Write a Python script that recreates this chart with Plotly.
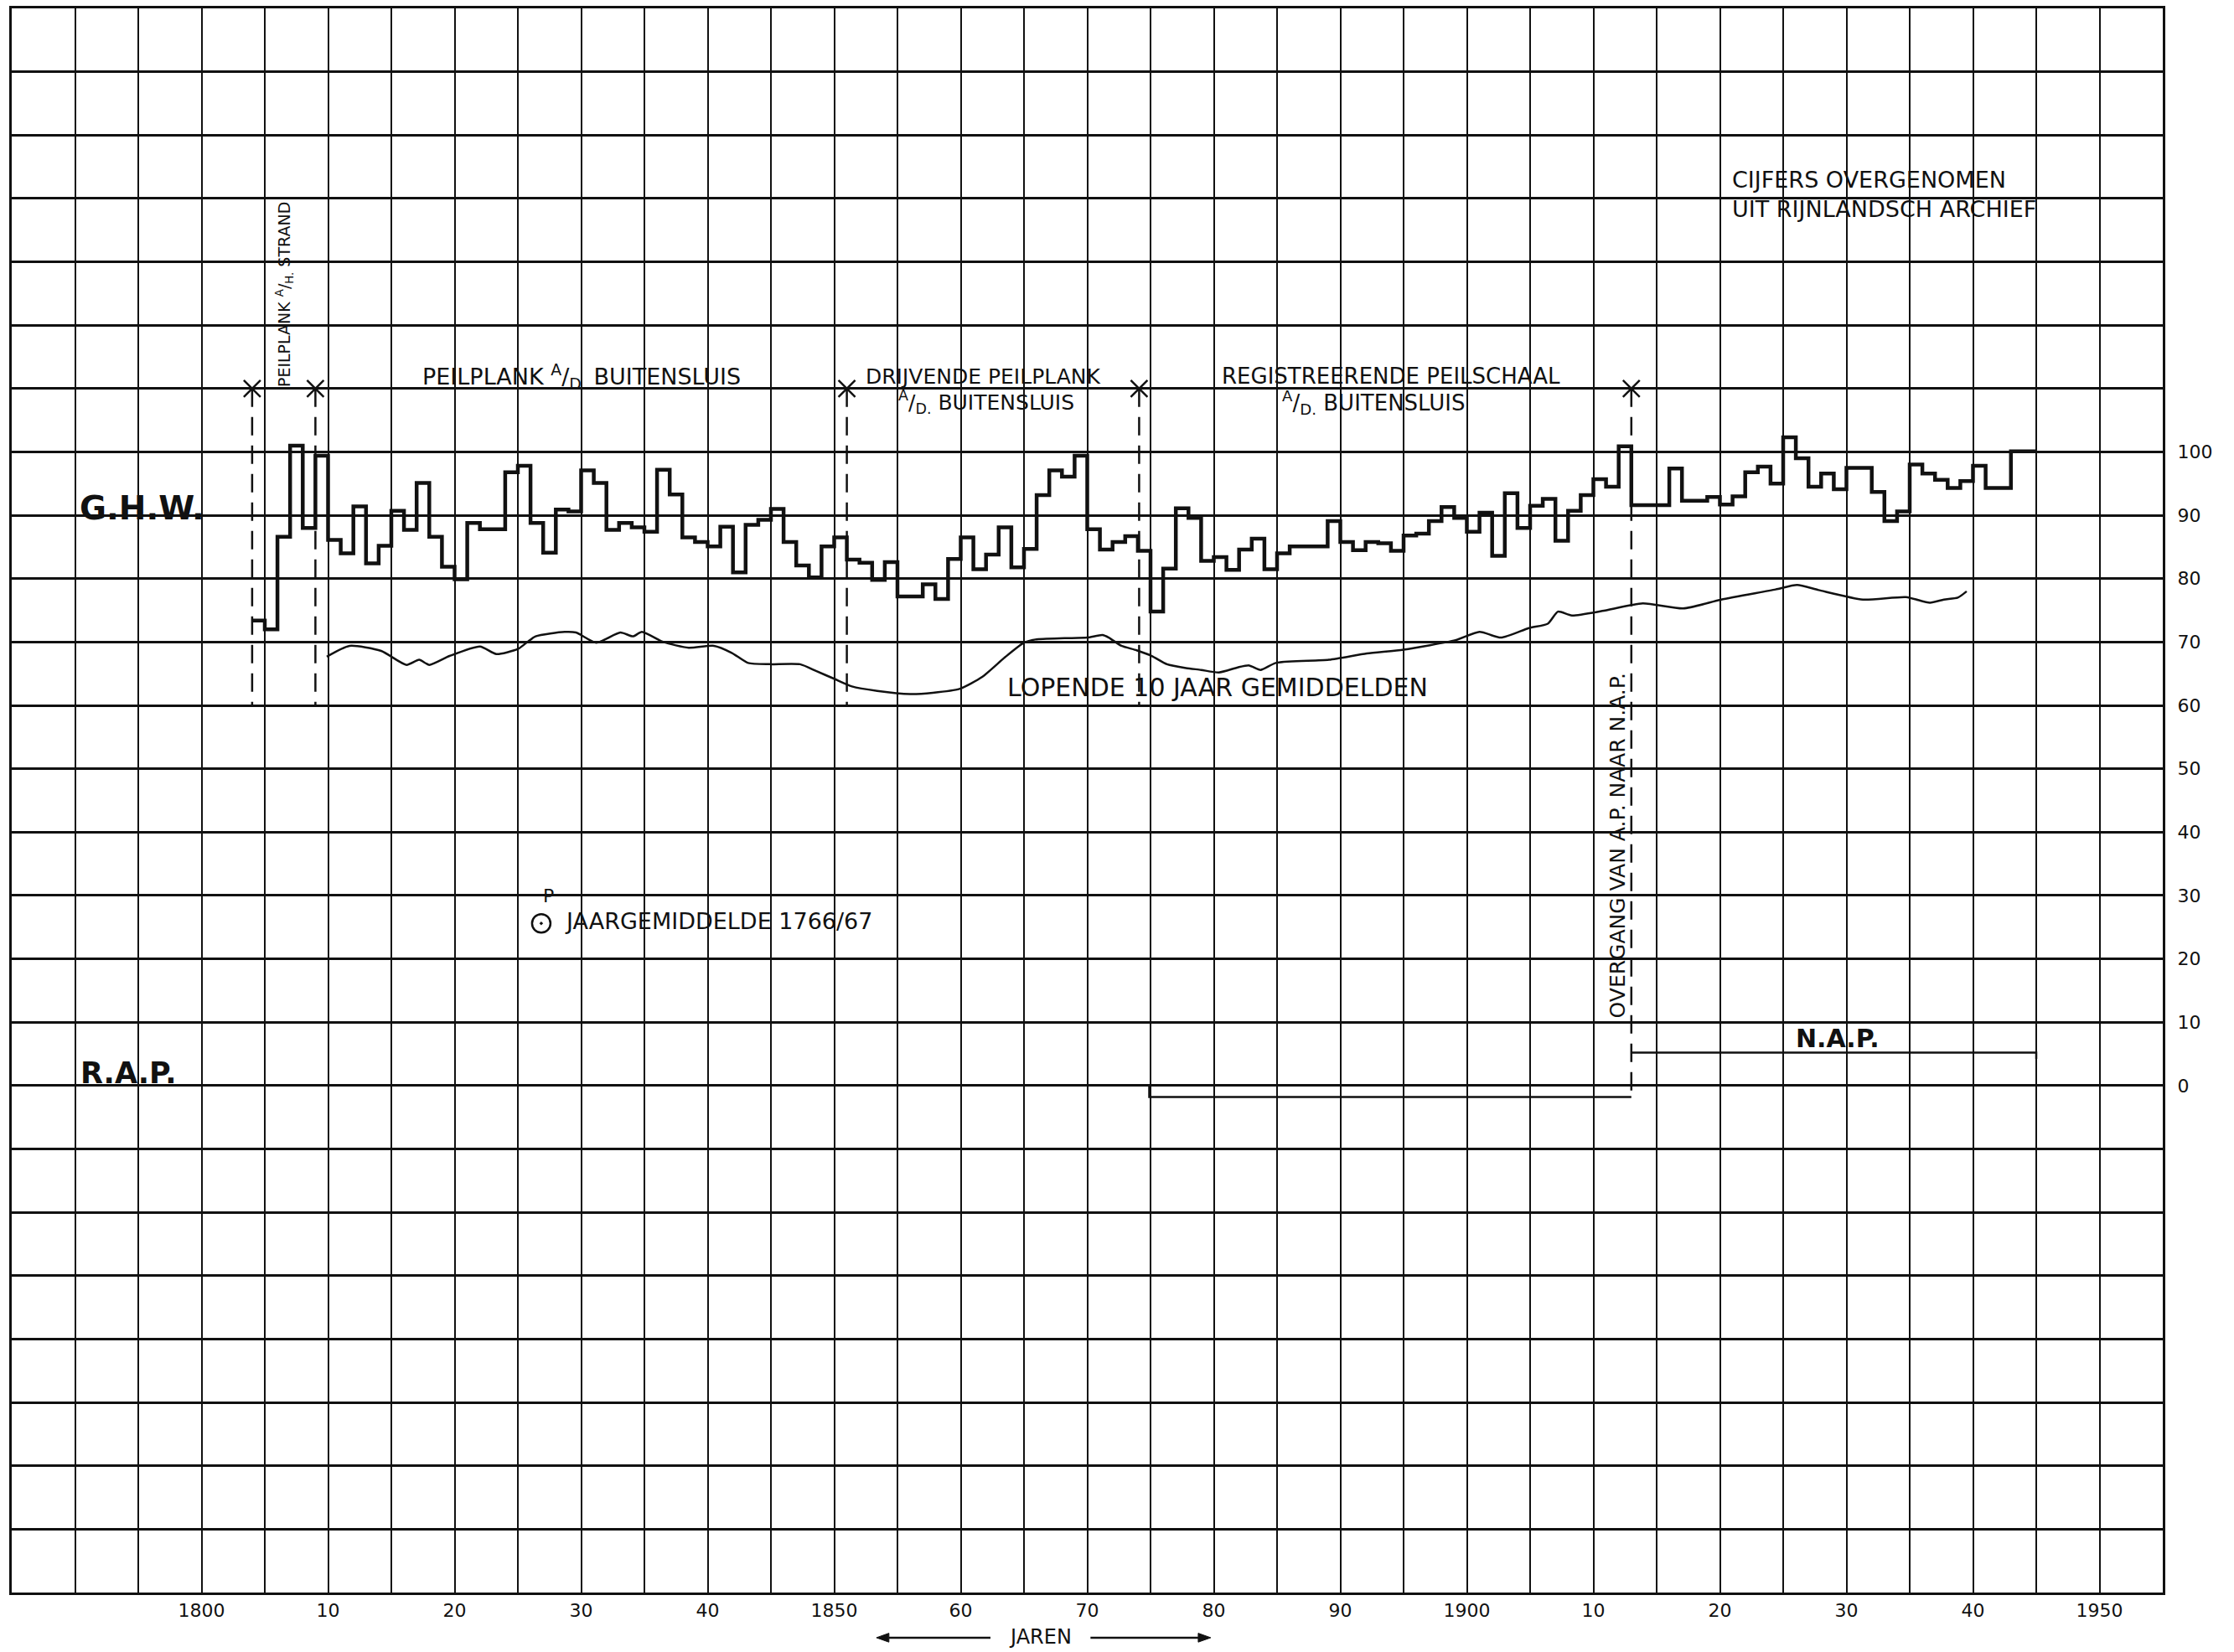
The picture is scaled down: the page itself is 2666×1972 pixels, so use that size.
import plotly.graph_objects as go

# Gemiddeld hoog water (G.H.W.) per jaar, in cm boven R.A.P.
ghw_years = list(range(1804, 1945))
ghw_values = [
    73.4, 72.0, 86.6, 101.0, 88.0, 99.4,                                   # 1804-1809
    86.1, 84.0, 91.4, 82.4, 85.2, 90.7, 87.7, 95.1, 86.6, 81.9,            # 1810-1819
    79.9, 88.8, 87.8, 87.8, 96.8, 97.8, 88.8, 84.1, 90.9, 90.6,            # 1820-1829
    97.1, 95.1, 87.7, 88.8, 88.1, 87.4, 97.2, 93.3, 86.5, 85.8,            # 1830-1839
    85.1, 88.2, 81.0, 88.5, 89.3, 91.0, 85.8, 82.1, 80.2, 85.1,            # 1840-1849
    86.5, 83.0, 82.5, 79.8, 82.6, 77.2, 77.2, 79.1, 76.8, 83.1,            # 1850-1859
    86.5, 81.5, 83.8, 88.1, 81.8, 84.7, 93.2, 97.1, 96.1, 99.4,            # 1860-1869
    87.8, 84.6, 85.8, 86.7, 84.4, 74.8, 81.6, 91.1, 89.6, 82.8,            # 1870-1879
    83.4, 81.4, 84.6, 86.3, 81.5, 84.0, 85.1, 85.1, 85.1, 89.1,            # 1880-1889
    85.8, 84.5, 85.8, 85.6, 84.4, 86.8, 87.1, 89.1, 91.3, 89.6,            # 1890-1899
    87.4, 90.4, 83.6, 93.5, 88.0, 91.5, 92.6, 86.0, 90.7, 93.2,            # 1900-1909
    95.7, 94.5, 100.9, 91.6, 91.6, 91.6, 97.4, 92.3, 92.3, 92.9,           # 1910-1919
    91.7, 93.0, 96.8, 97.7, 95.0, 102.3, 99.0, 94.5, 96.6, 94.1,           # 1920-1929
    97.5, 97.5, 93.7, 89.1, 90.6, 98.0, 96.6, 95.6, 94.3, 95.4,            # 1930-1939
    97.8, 94.3, 94.3, 100.1, 100.1,                                        # 1940-1944
]
ghw_end_year = 1945

# Lopende 10-jaarsgemiddelden
mean_years = [
    1809.9, 1811.7, 1814.2, 1816.2, 1817.2, 1818.0, 1819.6, 1822.0, 1823.3, 1825.0,
    1826.4, 1828.7, 1829.6, 1831.2, 1833.1, 1834.1, 1834.8, 1836.5, 1838.5, 1840.5,
    1841.9, 1843.2, 1844.9, 1847.3, 1848.6, 1850.0, 1851.4, 1853.4, 1856.0, 1857.8,
    1859.9, 1861.7, 1863.5, 1865.0, 1865.9, 1868.2, 1870.0, 1871.2, 1871.7, 1872.7,
    1873.9, 1875.1, 1876.3, 1877.8, 1879.0, 1880.4, 1881.9, 1882.8, 1883.7, 1884.9,
    1889.1, 1892.1, 1895.0, 1899.1, 1901.0, 1902.7, 1904.9, 1906.4, 1907.2, 1908.3,
    1910.7, 1913.9, 1917.1, 1920.1, 1924.4, 1926.1, 1927.8, 1931.3, 1934.7, 1936.6,
    1937.7, 1938.8, 1939.5,
]
mean_values = [
    67.7, 69.4, 68.6, 66.4, 67.2, 66.4, 67.8, 69.3, 68.1, 68.9,
    70.9, 71.6, 71.5, 69.9, 71.5, 70.9, 71.6, 70.0, 69.1, 69.4,
    68.3, 66.7, 66.5, 66.5, 65.4, 64.2, 63.0, 62.3, 61.8, 62.0,
    62.6, 64.5, 67.6, 69.9, 70.4, 70.6, 70.7, 71.1, 70.7, 69.4,
    68.7, 67.8, 66.5, 65.9, 65.6, 65.2, 66.0, 66.3, 65.6, 66.7,
    67.2, 68.2, 68.8, 70.3, 71.6, 70.7, 72.2, 72.9, 74.8, 74.2,
    74.9, 76.1, 75.3, 76.7, 78.3, 79.0, 78.2, 76.7, 77.1, 76.2,
    76.7, 77.0, 78.0,
]

# Wisselingen van meetinrichting (jaar) en de onderkant van hun merkstreep
change_years = [1804.0, 1809.0, 1851.0, 1874.1, 1913.0]
change_bottoms = [60, 60, 60, 60, -1.8]
marker_level = 110

# Peilverschil A.P. / N.A.P.
ap_level = -1.8
nap_level = 5.2
ap_start_year = 1874.9
nap_end_year = 1945

# Jaargemiddelde 1766/67
single_year = 1826.85
single_value = 25.6

x_tick_years = list(range(1800, 1951, 10))
x_tick_text = ["1800", "10", "20", "30", "40", "1850", "60", "70", "80", "90",
               "1900", "10", "20", "30", "40", "1950"]
y_tick_values = list(range(0, 101, 10))

FONT = "DejaVu Sans"
INK = "#111111"

fig = go.Figure()

# merkstrepen bij wisseling van meetinrichting
for yr, bottom in zip(change_years, change_bottoms):
    fig.add_trace(go.Scatter(
        x=[yr, yr], y=[marker_level, bottom], mode="lines",
        line=dict(color=INK, width=2.5, dash="22px,12px"),
        hoverinfo="skip", showlegend=False))
fig.add_trace(go.Scatter(
    x=change_years, y=[marker_level] * len(change_years), mode="markers",
    marker=dict(symbol="x-thin", size=20, color=INK, line=dict(color=INK, width=2.5)),
    hoverinfo="skip", showlegend=False))

# A.P. en N.A.P. niveaus
fig.add_trace(go.Scatter(
    x=[ap_start_year, ap_start_year, change_years[-1]], y=[0, ap_level, ap_level],
    mode="lines", line=dict(color=INK, width=2.5), hoverinfo="skip", showlegend=False))
fig.add_trace(go.Scatter(
    x=[change_years[-1], nap_end_year, nap_end_year], y=[nap_level, nap_level, nap_level - 1],
    mode="lines", line=dict(color=INK, width=2.5), hoverinfo="skip", showlegend=False))

# jaarlijkse G.H.W. als trappenlijn
fig.add_trace(go.Scatter(
    x=ghw_years + [ghw_end_year], y=ghw_values + [ghw_values[-1]],
    mode="lines", line=dict(color=INK, width=4.5, shape="hv"),
    name="G.H.W.", showlegend=False))

# lopende gemiddelden
fig.add_trace(go.Scatter(
    x=mean_years, y=mean_values, mode="lines",
    line=dict(color=INK, width=2.5, shape="spline", smoothing=0.6),
    name="Lopende 10 jaar gemiddelden", showlegend=False))

# losse waarneming
fig.add_trace(go.Scatter(
    x=[single_year], y=[single_value], mode="markers",
    marker=dict(symbol="circle-dot", size=22, color="white",
                line=dict(color=INK, width=2.5)),
    showlegend=False))

def label(text, x, y, size=22, bold=False, angle=0, xanchor="center", **kw):
    if bold:
        text = f"<b>{text}</b>"
    fig.add_annotation(x=x, y=y, xref="x", yref="y", text=text, showarrow=False,
                       textangle=angle, xanchor=xanchor, yanchor="middle",
                       font=dict(family=FONT, size=size, color=INK), **kw)

label("G.H.W.", 1795.3, 91.2, size=39, bold=True)
label("R.A.P.", 1794.2, 2.0, size=35, bold=True)
label("N.A.P.", 1929.3, 7.4, size=30, bold=True)

label("PEILPLANK <sup>A</sup>/<sub>H.</sub> STRAND", 1806.6, 124.8, size=19, angle=-90)
label("PEILPLANK <sup>A</sup>/<sub>D.</sub> BUITENSLUIS", 1830.0, 111.9, size=27)
label("DRĲVENDE PEILPLANK", 1861.8, 111.9, size=25)
label("<sup>A</sup>/<sub>D.</sub> BUITENSLUIS", 1862.0, 107.8, size=25)
label("REGISTREERENDE PEILSCHAAL", 1894.0, 111.9, size=26)
label("<sup>A</sup>/<sub>D.</sub> BUITENSLUIS", 1892.6, 107.8, size=26)

label("CĲFERS OVERGENOMEN", 1920.8, 143.0, size=27, xanchor="left")
label("UIT RĲNLANDSCH ARCHIEF", 1920.8, 138.3, size=27, xanchor="left")

label("LOPENDE 10 JAAR GEMIDDELDEN", 1880.3, 62.9, size=30)
label("OVERGANG VAN A.P. NAAR N.A.P.", 1911.9, 37.9, size=25, angle=-90)
label("JAARGEMIDDELDE 1766/67", 1828.6, 25.9, size=27, xanchor="left")
label("P", 1827.4, 29.9, size=22)

# tijdas-pijl onder de grafiek
arrow_y = -0.0285
fig.add_annotation(x=0.478, y=-0.0282, xref="paper", yref="paper", text="JAREN",
                   showarrow=False, yanchor="middle", borderpad=0,
                   font=dict(family=FONT, size=24, color=INK))
head_dx, head_dy = 0.0058, 0.0028
left_head, left_tail = 0.402, 0.455
right_tail, right_head = 0.5015, 0.5574
fig.add_shape(type="line", xref="paper", yref="paper",
              x0=left_head + head_dx, x1=left_tail, y0=arrow_y, y1=arrow_y,
              line=dict(color=INK, width=2.5))
fig.add_shape(type="line", xref="paper", yref="paper",
              x0=right_tail, x1=right_head - head_dx, y0=arrow_y, y1=arrow_y,
              line=dict(color=INK, width=2.5))
fig.add_shape(type="path", xref="paper", yref="paper", fillcolor=INK,
              line=dict(color=INK, width=1),
              path=f"M {left_head} {arrow_y} L {left_head + head_dx} {arrow_y + head_dy} "
                   f"L {left_head + head_dx} {arrow_y - head_dy} Z")
fig.add_shape(type="path", xref="paper", yref="paper", fillcolor=INK,
              line=dict(color=INK, width=1),
              path=f"M {right_head} {arrow_y} L {right_head - head_dx} {arrow_y + head_dy} "
                   f"L {right_head - head_dx} {arrow_y - head_dy} Z")

fig.update_layout(
    width=2666, height=1972,
    margin=dict(l=14, r=85, t=7, b=71),
    paper_bgcolor="white", plot_bgcolor="white",
    font=dict(family=FONT, color=INK),
    showlegend=False,
)
fig.update_xaxes(
    range=[1785, 1955], tickvals=x_tick_years, ticktext=x_tick_text,
    tickfont=dict(size=22, color=INK), ticks="",
    showgrid=True, gridcolor=INK, gridwidth=1.6,
    minor=dict(tick0=1785, dtick=5, showgrid=True, gridcolor=INK, gridwidth=1.6),
    showline=True, mirror=True, linecolor=INK, linewidth=3, zeroline=False,
)
fig.update_yaxes(
    range=[-80, 170], side="right", tickvals=y_tick_values,
    tickfont=dict(size=22, color=INK), ticks="", ticklabelstandoff=10,
    showgrid=True, gridcolor=INK, gridwidth=3,
    minor=dict(tick0=0, dtick=10, showgrid=True, gridcolor=INK, gridwidth=3),
    showline=True, mirror=True, linecolor=INK, linewidth=3, zeroline=False,
)

fig.write_html("out.html")
